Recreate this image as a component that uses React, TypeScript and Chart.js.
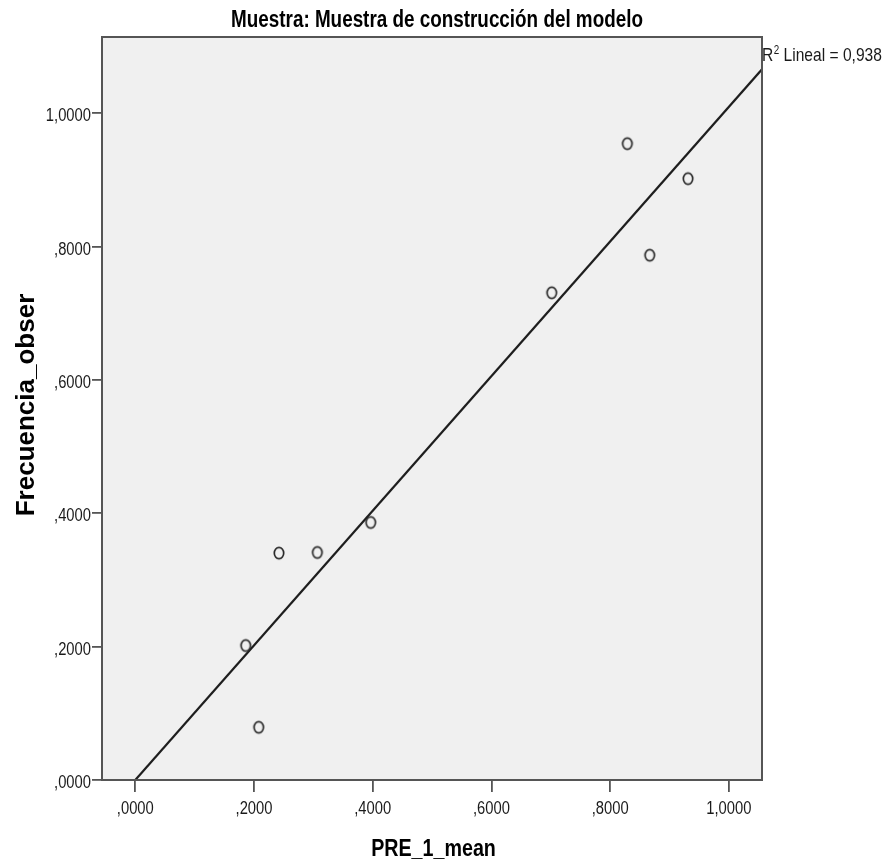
import { useEffect, useRef } from 'react';
import { Chart, registerables } from 'chart.js';

Chart.register(...registerables);

// ---- data ----
const pre1Mean = [0.186, 0.2079, 0.2421, 0.3067, 0.3966, 0.7016, 0.829, 0.8667, 0.9313];
const frecuenciaObser = [0.2017, 0.0791, 0.3404, 0.3413, 0.3863, 0.7308, 0.9545, 0.7872, 0.902];
const fitLineX = [0, 1.0559];
const fitLineY = [0, 1.066];
const xTickValues = [0, 0.2, 0.4, 0.6, 0.8, 1.0];
const yTickValues = [0, 0.2, 0.4, 0.6, 0.8, 1.0];
const chartTitle = 'Muestra: Muestra de construcción del modelo';
const xTitle = 'PRE_1_mean';
const yTitle = 'Frecuencia_obser';
const r2Text = ' Lineal = 0,938';

const ARIAL = "'Liberation Sans', Arial, 'DejaVu Sans', sans-serif";
const NARROW_SCALE = 0.82; // Arial Narrow ≈ Arial compressed horizontally

const fmt = (v: number) => v.toFixed(4).replace('.', ',').replace(/^0,/, ',');

function narrowText(ctx: CanvasRenderingContext2D, text: string, x: number, y: number, font: string, align: CanvasTextAlign) {
  ctx.save();
  ctx.font = font;
  ctx.textAlign = align;
  ctx.textBaseline = 'alphabetic';
  ctx.translate(x, y);
  ctx.scale(NARROW_SCALE, 1);
  ctx.fillText(text, 0, 0);
  const w = ctx.measureText(text).width * NARROW_SCALE;
  ctx.restore();
  return w;
}

export default function App() {
  const ref = useRef<HTMLCanvasElement>(null);

  useEffect(() => {
    if (!ref.current) return;
    const marker = document.createElement('canvas');
    marker.width = 14;
    marker.height = 16;
    const mctx = marker.getContext('2d')!;
    mctx.strokeStyle = '#2a2a2a';
    mctx.lineWidth = 1.7;
    mctx.beginPath();
    mctx.ellipse(7, 8, 4.7, 5.7, 0, 0, Math.PI * 2);
    mctx.stroke();

    const spss = {
      id: 'spss',
      beforeDraw(chart: any) {
        const { ctx, chartArea: a } = chart;
        ctx.save();
        ctx.fillStyle = '#f0f0f0';
        ctx.fillRect(a.left, a.top, a.right - a.left, a.bottom - a.top);
        ctx.restore();
      },
      afterDatasetsDraw(chart: any) {
        const { ctx, chartArea: a } = chart;
        ctx.save();
        ctx.strokeStyle = '#555';
        ctx.lineWidth = 2;
        ctx.strokeRect(a.left, a.top, a.right - a.left, a.bottom - a.top);
        ctx.restore();
      },
      afterDraw(chart: any) {
        const { ctx, chartArea: a, scales } = chart;
        ctx.save();
        ctx.fillStyle = '#1a1a1a';
        // tick labels from the scales
        const xs = scales.x;
        xs.ticks.forEach((t: any) => {
          narrowText(ctx, fmt(t.value), xs.getPixelForValue(t.value), 813.5, `18px ${ARIAL}`, 'center');
        });
        const ys = scales.y;
        ys.ticks.forEach((t: any) => {
          narrowText(ctx, fmt(t.value), 91, ys.getPixelForValue(t.value) + 8, `18px ${ARIAL}`, 'right');
        });
        // titles
        ctx.fillStyle = '#000';
        narrowText(ctx, chartTitle, 437, 26.5, `bold 23px ${ARIAL}`, 'center');
        narrowText(ctx, xTitle, (a.left + a.right) / 2 + 1.5, 855.5, `bold 24px ${ARIAL}`, 'center');
        ctx.save();
        ctx.translate(27, 405);
        ctx.rotate(-Math.PI / 2);
        ctx.font = `bold 26px ${ARIAL}`;
        ctx.textAlign = 'center';
        ctx.textBaseline = 'middle';
        ctx.fillText(yTitle, 0, 0);
        ctx.restore();
        // R² label
        ctx.fillStyle = '#1a1a1a';
        let x = a.right;
        const base = 61;
        x += narrowText(ctx, 'R', x, base, `19px ${ARIAL}`, 'left');
        x += narrowText(ctx, '2', x + 0.5, base - 7, `12px ${ARIAL}`, 'left') + 0.5;
        narrowText(ctx, r2Text, x, base, `19px ${ARIAL}`, 'left');
        ctx.restore();
      },
    };

    const chart = new Chart(ref.current, {
      type: 'scatter',
      data: {
        datasets: [
          {
            label: 'Observado',
            data: pre1Mean.map((x, i) => ({ x, y: frecuenciaObser[i] })),
            pointStyle: marker as any,
            pointRadius: 6,
            showLine: false,
          },
          {
            label: 'Lineal',
            data: fitLineX.map((x, i) => ({ x, y: fitLineY[i] })),
            showLine: true,
            borderColor: '#1e1e1e',
            borderWidth: 2.2,
            pointRadius: 0,
            fill: false,
          },
        ],
      },
      options: {
        responsive: false,
        animation: false,
        events: [],
        layout: { padding: { top: 37, right: 121, left: 0, bottom: 0 } },
        plugins: { legend: { display: false }, title: { display: false }, tooltip: { enabled: false } },
        scales: {
          x: {
            type: 'linear',
            min: -0.0561,
            max: 1.0559,
            afterFit: (s: any) => { s.height = 88; },
            afterBuildTicks: (s: any) => { s.ticks = xTickValues.map((v) => ({ value: v })); },
            grid: { display: true, drawOnChartArea: false, drawTicks: true, tickLength: 12, color: '#555', lineWidth: 1.8 },
            border: { display: false },
            ticks: { display: false },
          },
          y: {
            type: 'linear',
            min: 0,
            max: 1.1145,
            afterFit: (s: any) => { s.width = 102; },
            afterBuildTicks: (s: any) => { s.ticks = yTickValues.map((v) => ({ value: v })); },
            grid: { display: true, drawOnChartArea: false, drawTicks: true, tickLength: 10, color: '#555', lineWidth: 1.8 },
            border: { display: false },
            ticks: { display: false },
          },
        },
      },
      plugins: [spss],
    });
    return () => chart.destroy();
  }, []);

  return (
    <div style={{ position: 'fixed', left: 0, top: 0, width: 883, height: 868, background: '#fff' }}>
      <canvas ref={ref} width={883} height={868} style={{ display: 'block', width: 883, height: 868 }} />
    </div>
  );
}
